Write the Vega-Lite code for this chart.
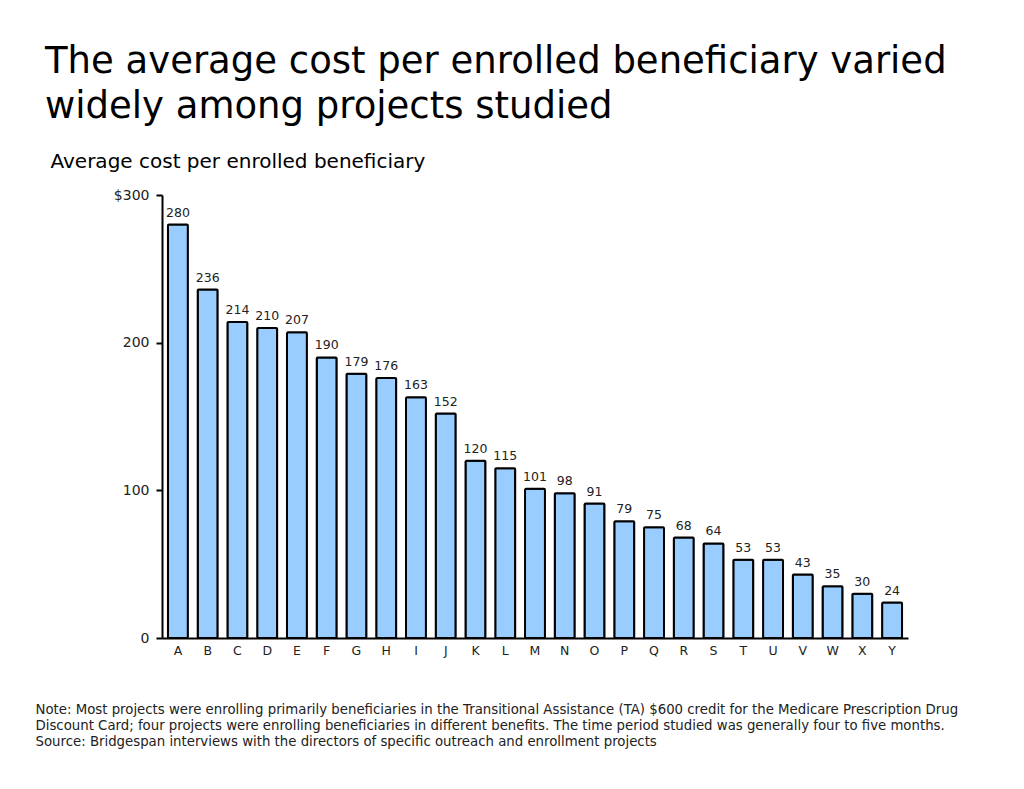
{
  "$schema": "https://vega.github.io/schema/vega-lite/v6.json",
  "width": 746,
  "height": 443,
  "autosize": {"type": "none"},
  "padding": {"left": 162, "top": 195, "right": 116, "bottom": 151},
  "background": "white",
  "config": {
    "font": "DejaVu Sans",
    "view": {"stroke": null}
  },
  "title": {
    "text": ["The average cost per enrolled beneficiary varied", "widely among projects studied"],
    "anchor": "start",
    "frame": "group",
    "dx": -117,
    "offset": 25,
    "fontSize": 37,
    "fontWeight": "normal",
    "font": "DejaVu Sans",
    "color": "black",
    "lineHeight": 45
  },
  "data": {
    "values": [
      {"project": "A", "cost": 280},
      {"project": "B", "cost": 236},
      {"project": "C", "cost": 214},
      {"project": "D", "cost": 210},
      {"project": "E", "cost": 207},
      {"project": "F", "cost": 190},
      {"project": "G", "cost": 179},
      {"project": "H", "cost": 176},
      {"project": "I", "cost": 163},
      {"project": "J", "cost": 152},
      {"project": "K", "cost": 120},
      {"project": "L", "cost": 115},
      {"project": "M", "cost": 101},
      {"project": "N", "cost": 98},
      {"project": "O", "cost": 91},
      {"project": "P", "cost": 79},
      {"project": "Q", "cost": 75},
      {"project": "R", "cost": 68},
      {"project": "S", "cost": 64},
      {"project": "T", "cost": 53},
      {"project": "U", "cost": 53},
      {"project": "V", "cost": 43},
      {"project": "W", "cost": 35},
      {"project": "X", "cost": 30},
      {"project": "Y", "cost": 24}
    ]
  },
  "encoding": {
    "x": {
      "field": "project",
      "type": "nominal",
      "sort": null,
      "scale": {"paddingInner": 0.33, "paddingOuter": 0.2},
      "axis": {
        "title": [
          "Note: Most projects were enrolling primarily beneficiaries in the Transitional Assistance (TA) $600 credit for the Medicare Prescription Drug",
          "Discount Card; four projects were enrolling beneficiaries in different benefits.  The time period studied was generally four to five months.",
          "Source: Bridgespan interviews with the directors of specific outreach and enrollment projects"
        ],
        "titleX": -127,
        "titleY": 75,
        "titleAlign": "left",
        "titleAnchor": null,
        "titleBaseline": "alphabetic",
        "titleFontSize": 13.3,
        "titleFontWeight": "normal",
        "titleColor": "#222",
        "titleLineHeight": 16,
        "labelAngle": 0,
        "labelFontSize": 12.5,
        "labelColor": "#222",
        "labelPadding": 6,
        "ticks": false,
        "domainColor": "black",
        "domainWidth": 2
      }
    },
    "y": {
      "field": "cost",
      "type": "quantitative",
      "scale": {"domain": [0, 300], "nice": false},
      "axis": {
        "values": [0, 100, 200, 300],
        "labelExpr": "datum.value == 300 ? '$300' : datum.label",
        "grid": false,
        "title": "Average cost per enrolled beneficiary",
        "titleAngle": 0,
        "titleAlign": "left",
        "titleAnchor": null,
        "titleBaseline": "alphabetic",
        "titleX": -112,
        "titleY": -28,
        "titleFontSize": 20,
        "titleFontWeight": "normal",
        "titleColor": "black",
        "labelFontSize": 14,
        "labelColor": "#222",
        "labelPadding": 7,
        "tickSize": 6,
        "tickWidth": 2,
        "tickColor": "black",
        "domainColor": "black",
        "domainWidth": 2
      }
    }
  },
  "layer": [
    {
      "mark": {"type": "bar", "color": "#99CCFF", "stroke": "black", "strokeWidth": 2, "cornerRadius": 1}
    },
    {
      "mark": {"type": "text", "baseline": "bottom", "dy": -5, "fontSize": 12.5, "color": "#222"},
      "encoding": {"text": {"field": "cost", "type": "quantitative"}}
    }
  ]
}
